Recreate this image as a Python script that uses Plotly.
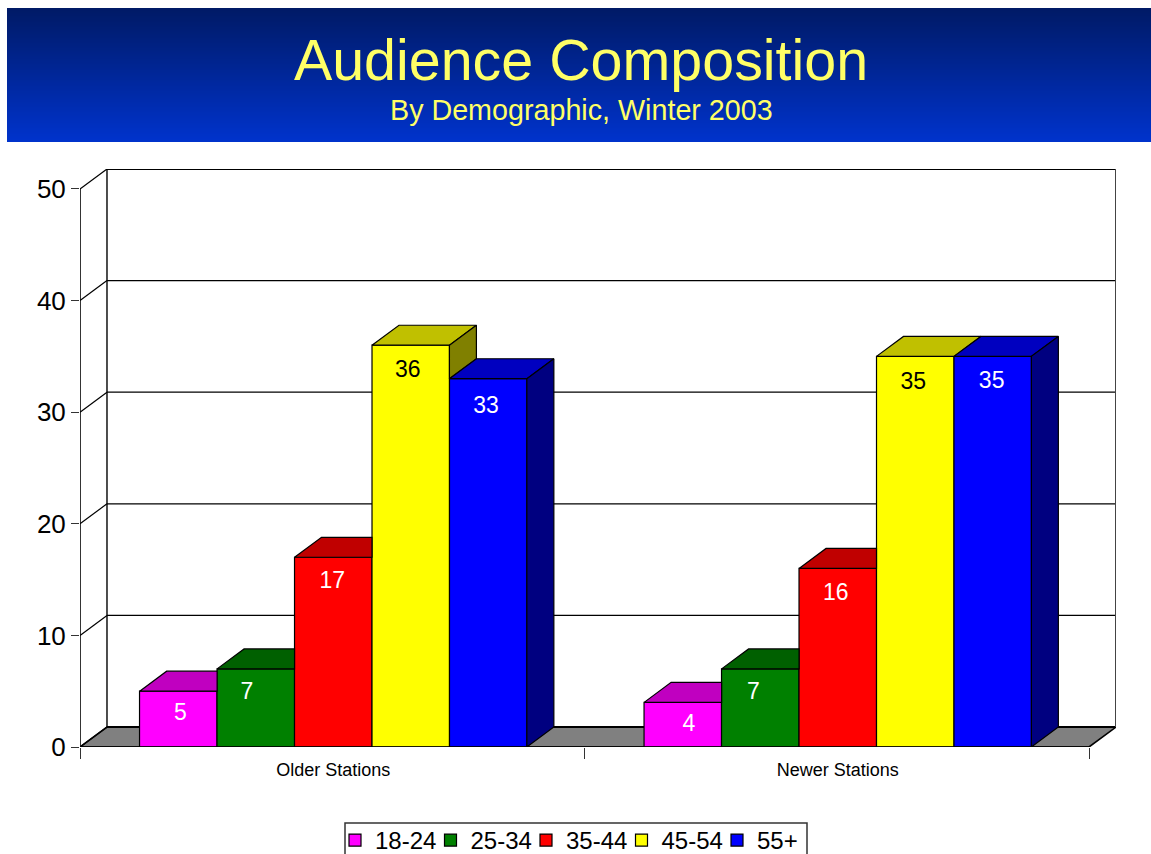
import plotly.graph_objects as go

# ---- data ----
stations = ["Older Stations", "Newer Stations"]
series_names = ["18-24", "25-34", "35-44", "45-54", "55+"]
values_18_24 = [5, 4]
values_25_34 = [7, 7]
values_35_44 = [17, 16]
values_45_54 = [36, 35]
values_55_plus = [33, 35]
y_ticks = [0, 10, 20, 30, 40, 50]

all_values = [values_18_24, values_25_34, values_35_44, values_45_54, values_55_plus]

# ---- style ----
front_colors = ["#FF00FF", "#008000", "#FF0000", "#FFFF00", "#0000FF"]
top_colors = ["#C000C0", "#006000", "#C00000", "#C0C000", "#0000C0"]
side_colors = ["#800080", "#004000", "#800000", "#808000", "#000080"]
label_colors = ["white", "white", "white", "black", "white"]
FONT = "Liberation Sans"

W, H = 1151, 854
L, R, T, B = 80, 1116, 169, 747     # plot area in pixels
BAR_W = 0.1535                      # one bar, in category units
DX = 0.0535                         # depth of the fake 3D, x units
DY = 1.79                           # depth of the fake 3D, y units
LABEL_DROP = 2.1                    # label centre below bar top, y units
X0, X1 = -0.502, 1.498
YMAX = y_ticks[-1]
PX_X = (R - L) / (X1 + DX - X0)     # pixels per x unit
PX_Y = (B - T) / (YMAX + DY)        # pixels per y unit

# hand nudges of the data labels, pixels (per series, per group)
label_nudge_x = [[2, 6], [-9, -7], [-1, -2], [-3, -2], [-2, -1]]
label_nudge_y = [[0, -1], [1, 1], [2, 2], [3, 3], [5, 2]]


def xp(px):
    return (px - L) / (R - L)


def yp(py):
    return (B - py) / (B - T)


fig = go.Figure()

# front faces
x_idx = list(range(len(stations)))
for s, name in enumerate(series_names):
    fig.add_bar(
        x=x_idx, y=all_values[s], name=name,
        marker=dict(color=front_colors[s], line=dict(color="black", width=1.2)),
        hoverinfo="skip",
    )


def poly(xs, ys, color):
    fig.add_scatter(
        x=xs + xs[:1], y=ys + ys[:1], mode="lines", fill="toself",
        fillcolor=color, line=dict(color="black", width=1.2),
        showlegend=False, hoverinfo="skip", cliponaxis=False,
    )


# top and side faces, clipped against the next bar's front
for g in x_idx:
    for s in range(len(series_names)):
        v = all_values[s][g]
        x0 = g + (s - 2.5) * BAR_W
        x1 = x0 + BAR_W
        nv = all_values[s + 1][g] if s + 1 < len(series_names) else 0
        if nv > v:
            # next bar hides everything right of this bar's edge
            poly([x0, x0 + DX, x1, x1], [v, v + DY, v + DY, v], top_colors[s])
        else:
            poly([x0, x0 + DX, x1 + DX, x1], [v, v + DY, v + DY, v], top_colors[s])
        if v > nv:
            poly([x1, x1 + DX, x1 + DX, x1], [nv, nv + DY, v + DY, v], side_colors[s])

# data labels
for s in range(len(series_names)):
    fig.add_scatter(
        x=[g + (s - 2) * BAR_W + label_nudge_x[s][g] / PX_X for g in x_idx],
        y=[all_values[s][g] - LABEL_DROP - label_nudge_y[s][g] / PX_Y for g in x_idx],
        text=[str(v) for v in all_values[s]],
        mode="text", textposition="middle center",
        textfont=dict(family=FONT, size=23, color=label_colors[s]),
        showlegend=False, hoverinfo="skip", cliponaxis=False,
    )

# front axis lines
fig.add_scatter(
    x=[X0, X0, None, X0, X1], y=[YMAX, 0, None, 0, 0], mode="lines",
    line=dict(color="black", width=1.6), showlegend=False,
    hoverinfo="skip", cliponaxis=False,
)

# ---- walls, floor and header as shapes below the marks ----
shapes = []
# header gradient
top_rgb, bot_rgb = (0, 26, 102), (0, 51, 204)
rows = 134
for i in range(rows):
    t = i / (rows - 1)
    c = tuple(round(a + (b - a) * t) for a, b in zip(top_rgb, bot_rgb))
    shapes.append(dict(
        type="rect", xref="paper", yref="paper", layer="below",
        x0=xp(7), x1=xp(W), y0=yp(8 + i + 1), y1=yp(8 + i),
        fillcolor="rgb(%d,%d,%d)" % c, line=dict(width=0),
    ))
# legend frame (runs off the bottom of the page)
shapes.append(dict(
    type="rect", xref="paper", yref="paper", layer="below",
    x0=xp(345), x1=xp(807), y0=yp(862), y1=yp(823),
    fillcolor="white", line=dict(color="#333333", width=1.5),
))
# floor
shapes.append(dict(
    type="path", xref="x", yref="y", layer="below",
    path=f"M{X0},0 L{X0 + DX},{DY} L{X1 + DX},{DY} L{X1},0 Z",
    fillcolor="#808080", line=dict(color="black", width=1.6),
))
# back wall grid and left wall diagonals
for t in y_ticks:
    width = 2 if t in (0, YMAX) else 1.2
    shapes.append(dict(
        type="line", xref="x", yref="y", layer="below",
        x0=X0 + DX, x1=X1 + DX, y0=t + DY, y1=t + DY,
        line=dict(color="black", width=width),
    ))
    shapes.append(dict(
        type="line", xref="x", yref="y", layer="below",
        x0=X0, x1=X0 + DX, y0=t, y1=t + DY,
        line=dict(color="black", width=1.2),
    ))
# wall verticals
shapes.append(dict(
    type="line", xref="x", yref="y", layer="below",
    x0=X0 + DX, x1=X0 + DX, y0=DY, y1=YMAX + DY,
    line=dict(color="black", width=1.4),
))
shapes.append(dict(
    type="line", xref="x", yref="y", layer="below",
    x0=X1 + DX, x1=X1 + DX, y0=DY, y1=YMAX + DY,
    line=dict(color="#444444", width=2),
))

fig.update_layout(
    width=W, height=H,
    margin=dict(l=L, r=W - R, t=T, b=H - B, autoexpand=False),
    paper_bgcolor="white", plot_bgcolor="white",
    barmode="group", bargap=0.232, bargroupgap=0,
    shapes=shapes,
    font=dict(family=FONT, color="black"),
    title=dict(
        text="Audience Composition", x=581 / W, y=1 - 59.5 / H,
        xanchor="center", yanchor="middle",
        font=dict(family=FONT, size=57.4, color="#FFFF66"),
    ),
    annotations=[dict(
        text="By Demographic, Winter 2003", xref="paper", yref="paper",
        x=xp(581), y=yp(110), xanchor="center", yanchor="middle",
        showarrow=False, font=dict(family=FONT, size=28.7, color="#FFFF66"),
    )],
    xaxis=dict(
        range=[X0, X1 + DX], type="linear", showgrid=False, zeroline=False,
        showline=False,
        tickmode="array", tickvals=x_idx, ticktext=stations,
        ticks="outside", ticklen=6, tickcolor="rgba(0,0,0,0)",
        tickfont=dict(family=FONT, size=18, color="black"),
        minor=dict(tickmode="array", tickvals=[X0, (X0 + X1) / 2, X1], ticks="outside",
                   ticklen=11, tickcolor="#333333", tickwidth=1.2),
    ),
    yaxis=dict(
        range=[0, YMAX + DY], showgrid=False, zeroline=False, showline=False,
        tickmode="array", tickvals=y_ticks,
        ticks="outside", ticklen=8, tickcolor="#333333", tickwidth=1.2,
        tickfont=dict(family=FONT, size=26, color="black"),
    ),
    showlegend=True,
    legend=dict(
        orientation="h", x=xp(335), y=yp(818), xanchor="left", yanchor="top",
        bgcolor="rgba(0,0,0,0)", borderwidth=0,
        font=dict(family=FONT, size=24, color="black"),
        entrywidth=50.5, entrywidthmode="pixels", traceorder="normal",
        itemclick=False, itemdoubleclick=False,
    ),
)

fig.write_html(
    "out.html",
    config=dict(displayModeBar=False),
    post_script="document.body.style.margin='0';document.body.style.overflow='hidden';",
)
